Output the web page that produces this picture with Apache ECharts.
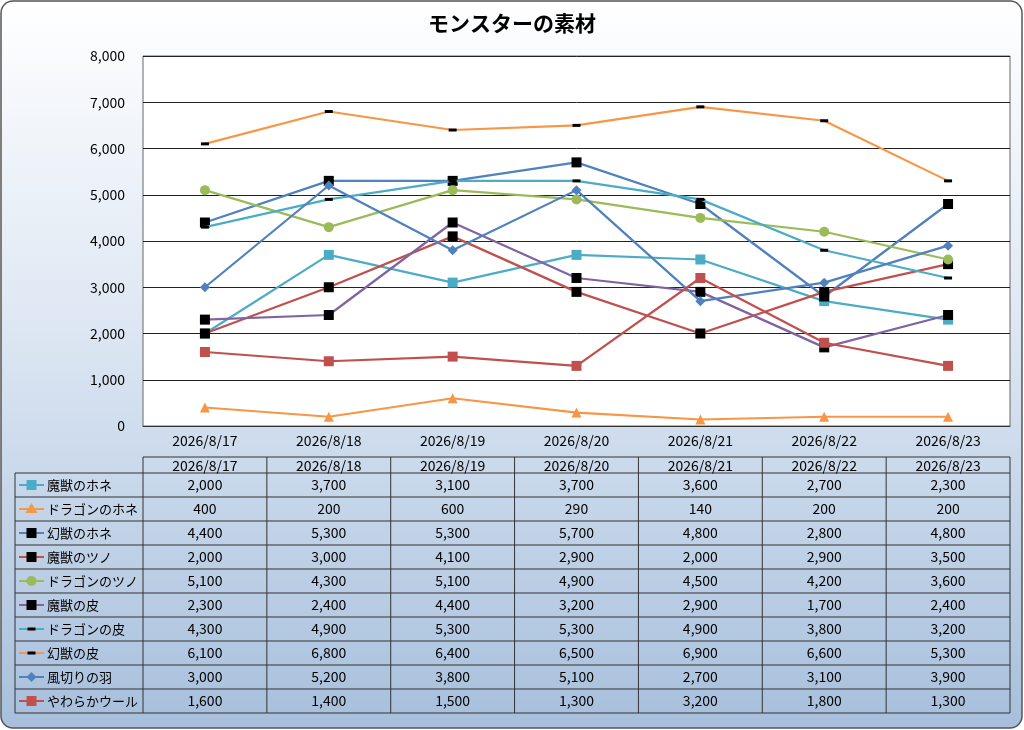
<!DOCTYPE html>
<html><head><meta charset="utf-8">
<script src="https://cdn.jsdelivr.net/npm/echarts@6/dist/echarts.min.js"></script>
<style>html,body{margin:0;padding:0;background:#fff}#c{width:1024px;height:730px}</style>
</head><body><div id="c"></div>
<script>
var dates = ["2026/8/17","2026/8/18","2026/8/19","2026/8/20","2026/8/21","2026/8/22","2026/8/23"];
var names = ["魔獣のホネ","ドラゴンのホネ","幻獣のホネ","魔獣のツノ","ドラゴンのツノ","魔獣の皮","ドラゴンの皮","幻獣の皮","風切りの羽","やわらかウール"];
var mamonoHone = [2000,3700,3100,3700,3600,2700,2300];
var dragonHone = [400,200,600,290,140,200,200];
var genjuHone = [4400,5300,5300,5700,4800,2800,4800];
var mamonoTsuno = [2000,3000,4100,2900,2000,2900,3500];
var dragonTsuno = [5100,4300,5100,4900,4500,4200,3600];
var mamonoKawa = [2300,2400,4400,3200,2900,1700,2400];
var dragonKawa = [4300,4900,5300,5300,4900,3800,3200];
var genjuKawa = [6100,6800,6400,6500,6900,6600,5300];
var kazekiri = [3000,5200,3800,5100,2700,3100,3900];
var wool = [1600,1400,1500,1300,3200,1800,1300];
var values = [mamonoHone,dragonHone,genjuHone,mamonoTsuno,dragonTsuno,mamonoKawa,dragonKawa,genjuKawa,kazekiri,wool];

// line colour, marker colour, marker kind
var styles = [
  ["#4bacc6","#4bacc6","rect"],
  ["#f79646","#f79646","triangle"],
  ["#4f81bd","#000","rect"],
  ["#c0504d","#000","rect"],
  ["#9bbb59","#9bbb59","circle"],
  ["#8064a2","#000","rect"],
  ["#4bacc6","#000","dash"],
  ["#f79646","#000","dash"],
  ["#4f81bd","#4f81bd","diamond"],
  ["#c0504d","#c0504d","rect"]
];

(function(){
var font = '"Noto Sans CJK JP", sans-serif';
function fmt(v){ return v.toLocaleString('en-US'); }

var series = names.map(function(n,i){
  var s = styles[i];
  var sym = s[2]==="dash" ? "rect" : s[2];
  var size = s[2]==="dash" ? [8,3] : 10;
  return {name:n,type:'line',data:values[i],symbol:sym,symbolSize:size,showAllSymbol:true,
    lineStyle:{color:s[0],width:2.2},itemStyle:{color:s[1],borderWidth:0},z:3+i};
});

// table
var tLeft=15, x0=143, x1=1010, tTop=457, hh=16, rh=24;
var cw=(x1-x0)/dates.length;
var g=[];
var nRows=names.length;
var tBottom=tTop+hh+nRows*rh;
var ls={stroke:'#333',lineWidth:1};
g.push({type:'rect',shape:{x:1,y:1,width:1021,height:727,r:12},style:{fill:{type:'linear',x:0,y:0,x2:0,y2:1,colorStops:[{offset:0,color:'#ffffff'},{offset:0.45,color:'#dde7f3'},{offset:1,color:'#a7bfdc'}]},stroke:'#555',lineWidth:1.5},z:-10});
g.push({type:'line',shape:{x1:x0,y1:tTop,x2:x1,y2:tTop},style:ls});
for(var r=0;r<=nRows;r++){var y=tTop+hh+r*rh;g.push({type:'line',shape:{x1:tLeft,y1:y,x2:x1,y2:y},style:ls});}
g.push({type:'line',shape:{x1:tLeft,y1:tTop+hh,x2:tLeft,y2:tBottom},style:ls});
for(var c=0;c<=dates.length;c++){var x=x0+c*cw;g.push({type:'line',shape:{x1:x,y1:tTop,x2:x,y2:tBottom},style:ls});}
dates.forEach(function(d,c){
  g.push({type:'text',style:{text:d,x:x0+(c+.5)*cw,y:tTop+hh/2+1,align:'center',verticalAlign:'middle',font:'14px '+font,fill:'#000'}});
});
names.forEach(function(n,r){
  var cy=tTop+hh+(r+.5)*rh, s=styles[r];
  g.push({type:'line',shape:{x1:19,y1:cy,x2:44,y2:cy},style:{stroke:s[0],lineWidth:2}});
  var mx=31.5;
  if(s[2]==="rect") g.push({type:'rect',shape:{x:mx-5,y:cy-5,width:10,height:10},style:{fill:s[1]}});
  else if(s[2]==="dash") g.push({type:'rect',shape:{x:mx-4,y:cy-1.5,width:8,height:3},style:{fill:s[1]}});
  else if(s[2]==="circle") g.push({type:'circle',shape:{cx:mx,cy:cy,r:5},style:{fill:s[1]}});
  else if(s[2]==="triangle") g.push({type:'polygon',shape:{points:[[mx,cy-6],[mx+6,cy+4],[mx-6,cy+4]]},style:{fill:s[1]}});
  else g.push({type:'polygon',shape:{points:[[mx,cy-5],[mx+5,cy],[mx,cy+5],[mx-5,cy]]},style:{fill:s[1]}});
  g.push({type:'text',style:{text:n,x:47,y:cy,verticalAlign:'middle',font:'13px '+font,fill:'#000'}});
  values[r].forEach(function(v,c){
    g.push({type:'text',style:{text:fmt(v),x:x0+(c+.5)*cw,y:cy,align:'center',verticalAlign:'middle',font:'14px '+font,fill:'#000'}});
  });
});

var chart=echarts.init(document.getElementById('c'));
chart.setOption({
  animation:false,
  title:{text:'モンスターの素材',left:'center',top:8,textStyle:{fontFamily:font,fontSize:21,fontWeight:'bold',color:'#000'}},
  graphic:{elements:g},
  grid:{left:143,right:14,top:56,bottom:304,show:true,backgroundColor:'#fff',borderColor:'#666',borderWidth:1},
  xAxis:{type:'category',data:dates,boundaryGap:true,axisLine:{lineStyle:{color:'#333'}},axisTick:{show:false},
    axisLabel:{fontFamily:font,fontSize:14,color:'#000',margin:8}},
  yAxis:{type:'value',min:0,max:8000,interval:1000,axisLine:{show:false},axisTick:{show:false},
    splitLine:{lineStyle:{color:'#222',width:1}},
    axisLabel:{formatter:function(v){return fmt(v);},fontFamily:font,fontSize:14,color:'#000',margin:18}},
  series:series
});
})();
</script></body></html>
